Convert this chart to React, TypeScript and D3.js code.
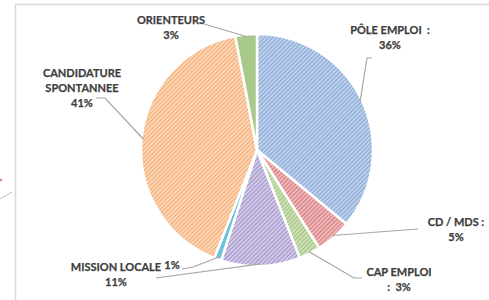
import { useEffect, useRef } from 'react';
import * as d3 from 'd3';

// data
const categories = ['PÔLE EMPLOI', 'CD / MDS', 'CAP EMPLOI', 'MISSION LOCALE', 'AUTRE', 'CANDIDATURE SPONTANNEE', 'ORIENTEURS'];
const values = [36, 5, 3, 11, 1, 41, 3];
const labelLines = [
  ['PÔLE EMPLOI  :', '36%'],
  ['CD / MDS :', '5%'],
  ['CAP EMPLOI', ':  3%'],
  ['MISSION LOCALE', '11%'],
  ['1%'],
  ['CANDIDATURE', 'SPONTANNEE', '41%'],
  ['ORIENTEURS', '3%'],
];

// fills: [background, hatch line] ; null line = solid
const fills: [string, string | null][] = [
  ['#c6d6ed', '#86a8d8'],
  ['#f0c3c3', '#d8787b'],
  ['#d3e4bf', '#a3c47e'],
  ['#d9d1ea', '#a394cc'],
  ['#6cc3da', null],
  ['#fcdcc0', '#f5ad74'],
  ['#a9c98a', null],
];

// label layout (anchor x, first baseline y) and leader elbow points
const labelPos: [number, number][] = [
  [390, 34],
  [456, 226],
  [399, 276],
  [116, 271],
  [172, 269],
  [82, 77],
  [171, 24],
];
const leaderStart: [number, number][][] = [
  [[372, 58], [367, 58]],
  [[418, 229]],
  [[362, 278], [354, 278]],
  [[156, 278]],
  [[182, 269], [193, 267]],
  [[96, 98], [105, 98]],
  [[204, 24]],
];

const W = 489;
const H = 300;

const App = () => {
  const ref = useRef<SVGSVGElement>(null);

  useEffect(() => {
    const svg = d3.select(ref.current);
    svg.selectAll('*').remove();

    // frame
    svg.append('line').attr('x1', 15).attr('x2', W).attr('y1', 4.5).attr('y2', 4.5)
      .attr('stroke', '#d9d9d9').attr('stroke-width', 1.5);
    svg.append('line').attr('x1', 15.5).attr('x2', 15.5).attr('y1', 4).attr('y2', H)
      .attr('stroke', '#d9d9d9').attr('stroke-width', 1.5);
    // bit of neighbouring chart
    svg.append('line').attr('x1', 0).attr('y1', 199).attr('x2', 12).attr('y2', 192)
      .attr('stroke', '#bfbfbf');
    svg.append('circle').attr('cx', 1).attr('cy', 180).attr('r', 1.2).attr('fill', '#c98080');

    const defs = svg.append('defs');
    fills.forEach(([bg, ln], i) => {
      if (!ln) return;
      const p = defs.append('pattern')
        .attr('id', `hatch${i}`)
        .attr('patternUnits', 'userSpaceOnUse')
        .attr('width', 3)
        .attr('height', 3)
        .attr('patternTransform', 'rotate(45)');
      p.append('rect').attr('width', 3).attr('height', 3).attr('fill', bg);
      p.append('rect').attr('width', 1.3).attr('height', 3).attr('fill', ln);
    });

    const cx = 257;
    const cy = 150;
    const r = 116;

    const pie = d3.pie<number>().sort(null).value(d => d);
    const arcs = pie(values);
    const arc = d3.arc<d3.PieArcDatum<number>>().innerRadius(0).outerRadius(r);

    const g = svg.append('g').attr('transform', `translate(${cx},${cy})`);
    g.selectAll('path')
      .data(arcs)
      .enter()
      .append('path')
      .attr('d', arc)
      .attr('fill', (d, i) => (fills[i][1] ? `url(#hatch${i})` : fills[i][0]))
      .attr('stroke', '#fff')
      .attr('stroke-width', 2.5)
      .attr('stroke-linejoin', 'round');

    // leader lines
    arcs.forEach((d, i) => {
      const mid = (d.startAngle + d.endAngle) / 2;
      const ex = cx + Math.sin(mid) * (r - 2);
      const ey = cy - Math.cos(mid) * (r - 2);
      const pts: [number, number][] = [...leaderStart[i], [ex, ey]];
      svg.append('path')
        .attr('d', d3.line()(pts))
        .attr('fill', 'none')
        .attr('stroke', '#a6a6a6')
        .attr('stroke-width', 1.2);
    });

    // labels
    labelLines.forEach((lines, i) => {
      const [x, y] = labelPos[i];
      const t = svg.append('text')
        .attr('x', x)
        .attr('y', y)
        .attr('text-anchor', 'middle')
        .attr('font-family', 'Lato, "Open Sans", sans-serif')
        .attr('font-weight', 'bold')
        .attr('font-size', 11)
        .attr('fill', '#3d3d3d')
        .attr('stroke', '#3d3d3d')
        .attr('stroke-width', 0.25)
        .style('white-space', 'pre');
      lines.forEach((s, j) => {
        t.append('tspan').attr('x', x).attr('dy', j === 0 ? 0 : 15).text(s);
      });
    });
  }, []);

  return (
    <svg
      ref={ref}
      width={W}
      height={H}
      style={{ position: 'absolute', left: 0, top: 0, background: '#fff' }}
    />
  );
};

export default App;
